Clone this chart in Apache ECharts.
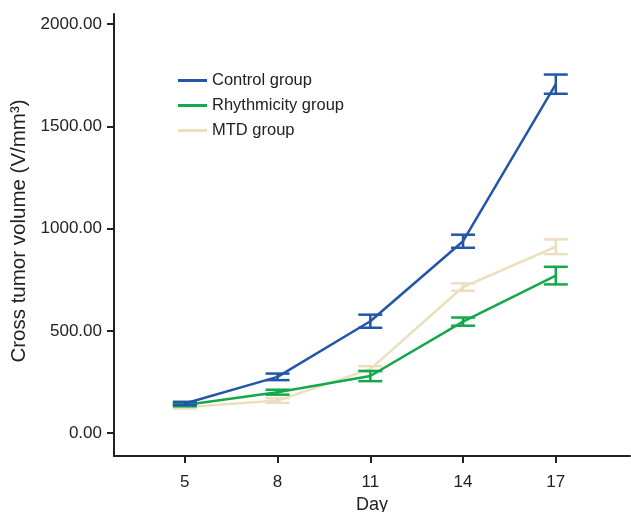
<!DOCTYPE html>
<html><head><meta charset="utf-8">
<script src="https://cdn.jsdelivr.net/npm/echarts@6/dist/echarts.min.js"></script>
<style>html,body{margin:0;padding:0;background:#fff}#c{width:631px;height:512px}</style>
</head><body><div id="c"></div>
<script>
const days = [5, 8, 11, 14, 17];
const yTicks = [0, 500, 1000, 1500, 2000];
const seriesNames = ['Control group', 'Rhythmicity group', 'MTD group'];
const controlMean = [145, 275, 547, 938, 1706];
const controlErr = [8, 16, 32, 32, 47];
const rhythmMean = [137, 200, 279, 545, 770];
const rhythmErr = [6, 12, 25, 20, 43];
const mtdMean = [126, 159, 313, 714, 911];
const mtdErr = [6, 11, 14, 18, 36];
const colors = ['#2356a6', '#12a84b', '#ebdfbf'];

const means = [controlMean, rhythmMean, mtdMean];
const errs = [controlErr, rhythmErr, mtdErr];

const chart = echarts.init(document.getElementById('c'));
const series = [];
means.forEach((m, i) => {
  series.push({
    name: seriesNames[i], type: 'line', data: days.map((d, k) => [d, m[k]]),
    symbol: 'none', lineStyle: { color: colors[i], width: 2.5 }, itemStyle: { color: colors[i] },
    z: 3 - i
  });
  series.push({
    name: seriesNames[i], type: 'custom', z: 3 - i,
    data: days.map((d, k) => [d, m[k] - errs[i][k], m[k] + errs[i][k]]),
    renderItem: function (params, api) {
      const lo = api.coord([api.value(0), api.value(1)]);
      const hi = api.coord([api.value(0), api.value(2)]);
      const w = 12;
      const st = { stroke: colors[i], lineWidth: 2.5, fill: null };
      return { type: 'group', children: [
        { type: 'line', shape: { x1: lo[0], y1: lo[1], x2: hi[0], y2: hi[1] }, style: st },
        { type: 'line', shape: { x1: lo[0] - w, y1: lo[1], x2: lo[0] + w, y2: lo[1] }, style: st },
        { type: 'line', shape: { x1: hi[0] - w, y1: hi[1], x2: hi[0] + w, y2: hi[1] }, style: st }
      ]};
    }
  });
});

chart.setOption({
  animation: false,
  textStyle: { fontFamily: 'Liberation Sans, Arial, sans-serif' },
  grid: { left: 114, right: 1, top: 14, bottom: 56, outerBoundsMode: 'none', containLabel: false },
  legend: {
    orient: 'vertical', left: 173, top: 67, itemGap: 8,
    itemWidth: 29, itemHeight: 3, icon: 'rect',
    textStyle: { fontSize: 16.5, color: '#222' },
    data: seriesNames.map((n, i) => ({ name: n, itemStyle: { color: colors[i] } }))
  },
  xAxis: {
    type: 'value', min: 2.71, max: 19.4,
    name: 'Day', nameLocation: 'middle', nameGap: 37,
    nameTextStyle: { fontSize: 18, color: '#222' },
    axisLine: { onZero: false, lineStyle: { color: '#222', width: 2 } },
    axisTick: { show: true, length: 7, lineStyle: { color: '#222', width: 2 }, customValues: days },
    axisLabel: { fontSize: 17, color: '#222', margin: 18, customValues: days },
    splitLine: { show: false }
  },
  yAxis: {
    type: 'value', min: -112, max: 2049,
    name: 'Cross tumor volume (V/mm³)', nameLocation: 'middle', nameGap: 81,
    nameTextStyle: { fontSize: 20.5, color: '#222', padding: [0, 0, 0, 8] },
    axisLine: { show: true, onZero: false, lineStyle: { color: '#222', width: 2 } },
    axisTick: { show: true, length: 7, lineStyle: { color: '#222', width: 2 }, customValues: yTicks },
    axisLabel: { fontSize: 17, color: '#222', margin: 12, customValues: yTicks, formatter: v => v.toFixed(2) },
    splitLine: { show: false }
  },
  series: series
});
</script></body></html>
